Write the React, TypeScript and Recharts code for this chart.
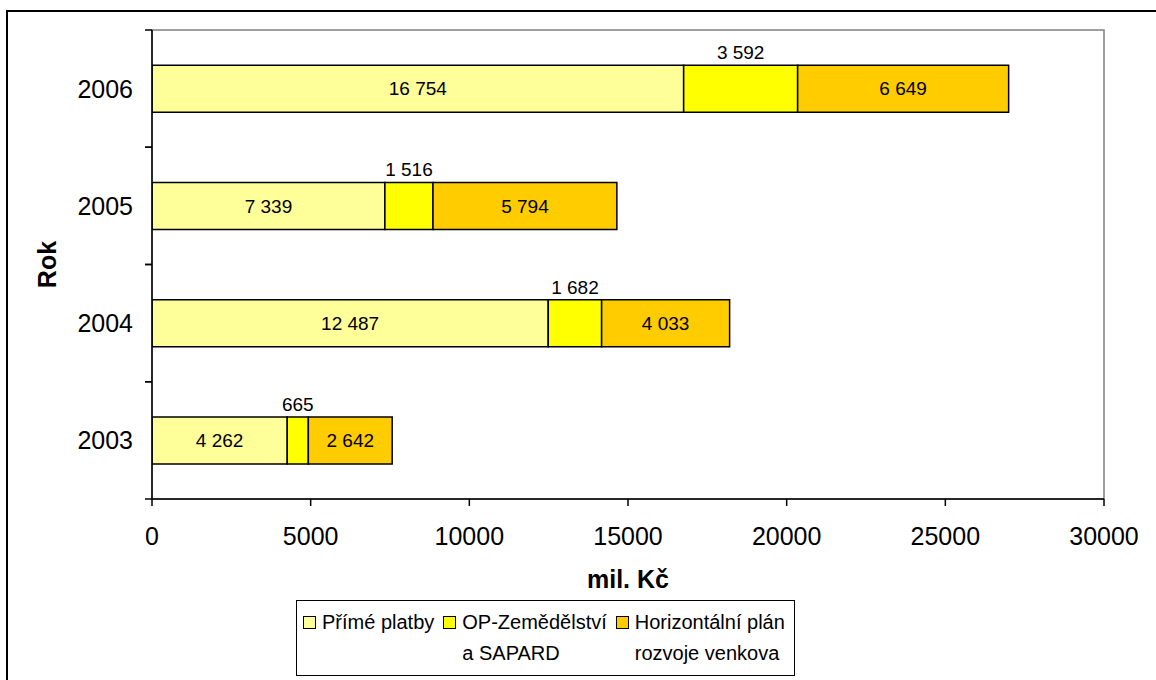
import React from 'react';
import { BarChart, Bar, XAxis, YAxis, LabelList, ReferenceArea, Label } from 'recharts';

const years = ['2003', '2004', '2005', '2006'];
const primePlatby = [4262, 12487, 7339, 16754];
const opZemedelstvi = [665, 1682, 1516, 3592];
const horizontalniPlan = [2642, 4033, 5794, 6649];
const xTicks = [0, 5000, 10000, 15000, 20000, 25000, 30000];
const seriesKeys = ['prime', 'op', 'hp'];
const seriesNames = ['Přímé platby', 'OP-Zemědělství a SAPARD', 'Horizontální plán rozvoje venkova'];
const legendLines = [['Přímé platby'], ['OP-Zemědělství', 'a SAPARD'], ['Horizontální plán', 'rozvoje venkova']];
const colors = ['#FFFF99', '#FFFF00', '#FFCC00'];

const data = years.map((y, i) => ({
  year: y,
  prime: primePlatby[i],
  op: opZemedelstvi[i],
  hp: horizontalniPlan[i],
}));

const W = 1156;
const H = 680;
const MARGIN = { top: 30, right: 52, left: 0, bottom: 121 };
const X_AXIS_H = 60;
const Y_AXIS_W = 152;
const PLOT_H = H - MARGIN.top - MARGIN.bottom - X_AXIS_H;
const BAND = PLOT_H / years.length;
const FONT = '"Liberation Sans", Arial, sans-serif';

const fmt = (v: any) => String(v).replace(/\B(?=(\d{3})+(?!\d))/g, ' ');

const YTick = (props: any) => {
  const { x, y, payload } = props;
  return (
    <g>
      <line x1={x - 7} x2={x} y1={y - BAND / 2} y2={y - BAND / 2} stroke="#000" strokeWidth={1.5} />
      <line x1={x - 7} x2={x} y1={y + BAND / 2} y2={y + BAND / 2} stroke="#000" strokeWidth={1.5} />
      <text x={x - 19} y={y} dy="0.355em" textAnchor="end" fontSize={25} fill="#000" fontFamily={FONT}>
        {payload.value}
      </text>
    </g>
  );
};

export default function App() {
  return (
    <div style={{ position: 'fixed', left: 0, top: 0, width: W, height: H, overflow: 'hidden', background: '#fff', fontFamily: FONT }}>
      <div style={{ position: 'absolute', left: 6, top: 10, width: 1200, height: 720, border: '2px solid #000', boxSizing: 'border-box' }} />
      <div style={{ position: 'absolute', left: 0, top: 0 }}>
        <BarChart width={W} height={H} data={data} layout="vertical" margin={MARGIN} barCategoryGap="30%">
          <ReferenceArea x1={0} x2={30000} fill="none" stroke="#808080" strokeWidth={1.5} ifOverflow="visible" />
          <XAxis
            type="number"
            domain={[0, 30000]}
            ticks={xTicks}
            height={X_AXIS_H}
            tickSize={7}
            tickMargin={21}
            axisLine={{ stroke: '#000', strokeWidth: 1.5 }}
            tickLine={{ stroke: '#000', strokeWidth: 1.5 }}
            tick={{ fill: '#000', fontSize: 25, fontFamily: FONT }}
            allowDataOverflow
          >
            <Label
              content={(p: any) => {
                const vb = p.viewBox;
                return (
                  <text x={vb.x + vb.width / 2} y={vb.y + 89} textAnchor="middle" fontSize={25} fontWeight="bold" fill="#000" fontFamily={FONT}>
                    mil. Kč
                  </text>
                );
              }}
            />
          </XAxis>
          <YAxis
            type="category"
            dataKey="year"
            reversed
            width={Y_AXIS_W}
            tickSize={0}
            tickMargin={0}
            tickLine={false}
            axisLine={{ stroke: '#000', strokeWidth: 1.5 }}
            tick={<YTick />}
            interval={0}
          >
            <Label
              content={(p: any) => {
                const vb = p.viewBox;
                const cx = vb.x + 47;
                const cy = vb.y + vb.height / 2;
                return (
                  <text x={cx} y={cy} dy="0.355em" transform={`rotate(-90, ${cx}, ${cy})`} textAnchor="middle" fontSize={25} fontWeight="bold" fill="#000" fontFamily={FONT}>
                    Rok
                  </text>
                );
              }}
            />
          </YAxis>
          {seriesKeys.map((k, i) => (
            <Bar key={k} dataKey={k} name={seriesNames[i]} stackId="s" fill={colors[i]} stroke="#000" strokeWidth={1.5} isAnimationActive={false}>
              <LabelList
                dataKey={k}
                position={i === 1 ? 'top' : 'center'}
                offset={6}
                formatter={fmt}
                fill="#000"
                fontSize={19}
                fontFamily={FONT}
              />
            </Bar>
          ))}
        </BarChart>
      </div>
      <div
        style={{
          position: 'absolute',
          left: 296,
          top: 600,
          width: 499,
          height: 76,
          border: '1.5px solid #000',
          boxSizing: 'border-box',
          display: 'flex',
          alignItems: 'flex-start',
          padding: '6px 0 0 6px',
          gap: 9,
          fontSize: 20,
          lineHeight: '31px',
          color: '#000',
        }}
      >
        {legendLines.map((lines, i) => (
          <div key={i} style={{ display: 'flex', alignItems: 'flex-start', gap: 6 }}>
            <div style={{ width: 13, height: 13, marginTop: 9, background: colors[i], border: '1px solid #000', boxSizing: 'border-box', flex: 'none' }} />
            <div style={{ whiteSpace: 'nowrap' }}>
              {lines.map((l, j) => (
                <div key={j}>{l}</div>
              ))}
            </div>
          </div>
        ))}
      </div>
    </div>
  );
}
